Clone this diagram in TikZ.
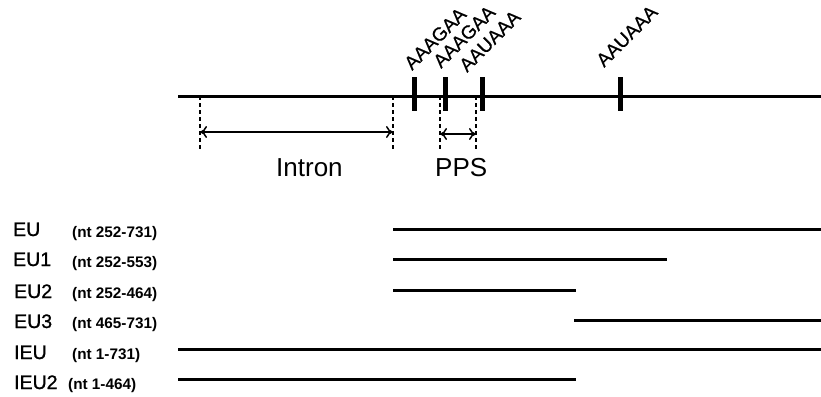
\documentclass[tikz,border=0pt]{standalone}
\usepackage{fontspec}
\setmainfont{Liberation Sans}
\newfontfamily\ntfont{Liberation Sans Bold}
\newfontfamily\rowfont[FakeBold=1]{Liberation Sans}
\newfontfamily\sigfont[FakeBold=0.6]{Liberation Sans}
\usetikzlibrary{arrows.meta}
\begin{document}
\begin{tikzpicture}[x=1pt,y=-1pt,
  thickline/.style={line width=3pt},
  tickmark/.style={line width=5pt},
  dashline/.style={line width=1.2pt,dash pattern=on 4pt off 3pt},
  dimarrow/.style={line width=1.5pt,{To[length=7pt,width=12pt]}-{To[length=7pt,width=12pt]}},
  siglabel/.style={anchor=base west,rotate=45,inner sep=0pt,font=\sigfont\fontsize{19}{21}\selectfont},
  rowlabel/.style={anchor=base west,inner sep=0pt,font=\rowfont\fontsize{19.5}{22}\selectfont},
  ntlabel/.style={anchor=base west,inner sep=0pt,font=\ntfont\fontsize{15.3}{17}\selectfont},
  bigtext/.style={anchor=base west,inner sep=0pt,font=\fontsize{26}{28}\selectfont}]
\useasboundingbox (0,0) rectangle (821,396);
% main gene line
\coordinate (mL) at (178,96);
\coordinate (mR) at (821,96);
\draw[thickline] (mL) -- (mR);
% signal ticks
\foreach \n/\x in {t1/414,t2/445,t3/482,t4/620}{
  \coordinate (\n top) at (\x,77);
  \coordinate (\n bot) at (\x,111);
  \draw[tickmark] (\n top) -- (\n bot);
}
% rotated labels
\node[siglabel] (s1) at (412,71) {AAAGAA};
\node[siglabel] (s2) at (441,69) {AAAGAA};
\node[siglabel] (s3) at (467,73) {AAUAAA};
\node[siglabel] (s4) at (604,68) {AAUAAA};
% dashed markers
\foreach \n/\x in {d1/200,d2/393,d3/440,d4/476}{
  \coordinate (\n top) at (\x,96);
  \coordinate (\n bot) at (\x,151);
  \draw[dashline] (\n top) -- (\n bot);
}
% dimension arrows
\coordinate (iA) at (200,132);
\coordinate (iB) at (393,132);
\draw[dimarrow] (iA) -- (iB);
\coordinate (pA) at (440,134);
\coordinate (pB) at (476,134);
\draw[dimarrow] (pA) -- (pB);
\node[bigtext] (intron) at (276,176) {Intron};
\node[bigtext] (pps) at (435,176) {PPS};
% rows
\node[rowlabel] (lEU) at (13,236) {EU};
\node[ntlabel] (nEU) at (72,237) {(nt 252-731)};
\node[rowlabel] (lEU1) at (13,266) {EU1};
\node[ntlabel] (nEU1) at (72,267) {(nt 252-553)};
\node[rowlabel] (lEU2) at (14,298) {EU2};
\node[ntlabel] (nEU2) at (72,298) {(nt 252-464)};
\node[rowlabel] (lEU3) at (14,328) {EU3};
\node[ntlabel] (nEU3) at (72,328) {(nt 465-731)};
\node[rowlabel] (lIEU) at (14,359) {IEU};
\node[ntlabel] (nIEU) at (72,359) {(nt 1-731)};
\node[rowlabel] (lIEU2) at (14,389) {IEU2};
\node[ntlabel] (nIEU2) at (68,389) {(nt 1-464)};
% fragment lines
\foreach \n/\a/\b/\y in {EU/393/821/229, EUa/393/667/259, EUb/393/576/290, EUc/574/821/320, IEU/178/821/349, IEUb/178/576/379}{
  \coordinate (\n L) at (\a,\y);
  \coordinate (\n R) at (\b,\y);
  \draw[thickline] (\n L) -- (\n R);
}
\end{tikzpicture}
\end{document}
